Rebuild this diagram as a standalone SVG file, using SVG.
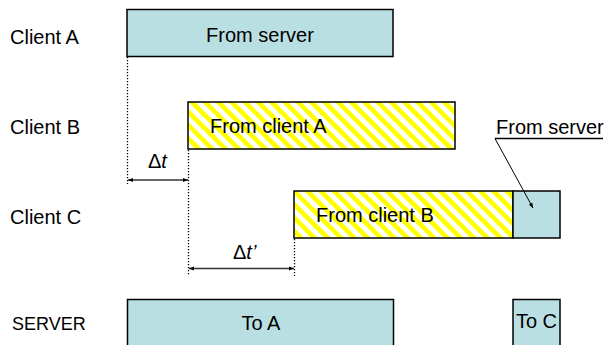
<svg xmlns="http://www.w3.org/2000/svg" width="608" height="345" viewBox="0 0 608 345">
<style>
text{font-family:"Liberation Sans",Arial,sans-serif;font-size:20px;fill:#000}
.blue{fill:#B9DFE2;stroke:#000;stroke-width:1.5}
.hatch{fill:url(#stripes);stroke:#000;stroke-width:1.5}
.dot{stroke:#000;stroke-width:1.3;stroke-dasharray:1.3 1.7;fill:none}
.dim{stroke:#333;stroke-width:1.3;fill:none;marker-start:url(#ah);marker-end:url(#ah)}
</style>
<defs>
<pattern id="stripes" patternUnits="userSpaceOnUse" width="20" height="9.4" patternTransform="rotate(45)">
<rect width="20" height="9.4" fill="#fff"/>
<rect width="20" height="4.7" fill="#FFFF00"/>
</pattern>
<marker id="ah" viewBox="0 0 10 10" refX="10" refY="5" markerWidth="5" markerHeight="5" orient="auto-start-reverse" markerUnits="userSpaceOnUse">
<path d="M0,1 L10,5 L0,9 z" fill="#000"/>
</marker>
</defs>
<g id="labels">
<text x="12" y="330" style="font-size:18px">SERVER</text>
<text x="10" y="44">Client A</text>
<text x="10" y="134">Client B</text>
<text x="10" y="224">Client C</text>
</g>
<g id="clientA-from-server">
<rect class="blue" x="127" y="9.5" width="266" height="47"/>
<text x="260" y="41.5" text-anchor="middle">From server</text>
</g>
<g id="clientB-from-clientA">
<rect class="hatch" x="188" y="102" width="267" height="47"/>
<text x="210" y="133">From client A</text>
</g>
<g id="clientC-from-clientB">
<rect class="hatch" x="294" y="191" width="219" height="47"/>
<text x="316" y="222">From client B</text>
</g>
<g id="clientC-from-server">
<rect class="blue" x="513" y="191" width="47" height="47"/>
</g>
<g id="server-toA">
<rect class="blue" x="127.5" y="299.5" width="266" height="60"/>
<text x="261" y="330" text-anchor="middle">To A</text>
</g>
<g id="server-toC">
<rect class="blue" x="513" y="299.5" width="47" height="60"/>
<text x="536.5" y="328" text-anchor="middle">To C</text>
</g>
<g id="connectors">
<line class="dot" x1="127.5" y1="57" x2="127.5" y2="184"/>
<line class="dot" x1="188.5" y1="150" x2="188.5" y2="276"/>
<line class="dot" x1="294.5" y1="239" x2="294.5" y2="276"/>
<line class="dim" x1="128" y1="180" x2="188" y2="180"/>
<line class="dim" x1="189" y1="268.5" x2="294" y2="268.5"/>
<line x1="495" y1="138.5" x2="603" y2="138.5" stroke="#000" stroke-width="1.3"/>
<line x1="495" y1="138.5" x2="533" y2="208" stroke="#000" stroke-width="1" marker-end="url(#ah)"/>
</g>
<g id="dim-labels">
<text x="148" y="168">Δ<tspan font-style="italic">t</tspan></text>
<text x="233" y="259">Δ<tspan font-style="italic">t’</tspan></text>
<text x="496" y="134">From server</text>
</g>
</svg>
